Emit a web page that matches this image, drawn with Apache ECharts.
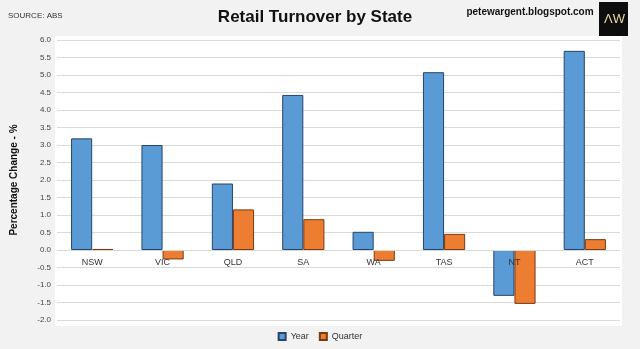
<!DOCTYPE html>
<html><head><meta charset="utf-8">
<script src="https://cdn.jsdelivr.net/npm/echarts@6/dist/echarts.min.js"></script>
<style>html,body{margin:0;padding:0;background:#f2f2f2}#c{width:640px;height:349px}</style>
</head><body><div id="c"></div>
<script>
const categories = ['NSW','VIC','QLD','SA','WA','TAS','NT','ACT'];
const yearValues = [3.19, 3.0, 1.9, 4.43, 0.52, 5.08, -1.31, 5.69];
const quarterValues = [0.03, -0.27, 1.16, 0.88, -0.31, 0.46, -1.54, 0.31];
const seriesNames = ['Year','Quarter'];

const chart = echarts.init(document.getElementById('c'));
const font = "'Liberation Sans',Arial,sans-serif";
chart.setOption({
  backgroundColor: '#f2f2f2',
  animation: false,
  graphic: [
    {type: 'rect', shape: {x: 55, y: 36, width: 567, height: 290}, style: {fill: '#ffffff'}, z: -10, silent: true},
    {type: 'text', x: 315, y: 9, style: {text: 'Retail Turnover by State', align: 'center', fontSize: 17, fontWeight: 'bold', fontFamily: font, fill: '#111'}},
    {type: 'text', x: 8, y: 12, style: {text: 'SOURCE: ABS', fontSize: 8, fontFamily: font, fill: '#333'}},
    {type: 'text', x: 530, y: 7, style: {text: 'petewargent.blogspot.com', align: 'center', fontSize: 10, fontWeight: 'bold', fontFamily: font, fill: '#111'}},
    {type: 'rect', shape: {x: 599, y: 2, width: 29, height: 34}, style: {fill: '#0d0d0d'}},
    {type: 'text', x: 604, y: 13, style: {text: 'ΛW', fontSize: 13, fontFamily: font, fill: '#e8d8a0'}}
  ],
  grid: {left: 57, right: 20, top: 40, bottom: 29},
  legend: {
    data: seriesNames, bottom: 3, left: 'center', itemWidth: 7, itemHeight: 7, itemGap: 10,
    icon: 'rect', textStyle: {fontSize: 9, fontFamily: font, color: '#333'}
  },
  xAxis: {
    type: 'category', data: categories, offset: -70, z: 10,
    axisLine: {show: true, onZero: false, lineStyle: {color: '#d9d9d9'}},
    axisTick: {show: false},
    axisLabel: {fontSize: 9, fontFamily: font, color: '#333', margin: 8}
  },
  yAxis: {
    type: 'value', min: -2, max: 6, interval: 0.5,
    name: 'Percentage Change - %', nameLocation: 'middle', nameGap: 38, nameRotate: 90,
    nameTextStyle: {fontSize: 10, fontWeight: 'bold', fontFamily: font, color: '#111'},
    axisLine: {show: false}, axisTick: {show: false},
    axisLabel: {fontSize: 8, fontFamily: font, color: '#444', margin: 6, formatter: v => v.toFixed(1)},
    splitLine: {lineStyle: {color: '#d9d9d9'}}
  },
  series: [
    {name: seriesNames[0], type: 'bar', data: yearValues, barGap: '0%', barCategoryGap: '40%',
     itemStyle: {color: '#5b9bd5', borderColor: '#26446a', borderWidth: 1}},
    {name: seriesNames[1], type: 'bar', data: quarterValues,
     itemStyle: {color: '#ed7d31', borderColor: '#7a3a12', borderWidth: 1}}
  ]
});
</script></body></html>
